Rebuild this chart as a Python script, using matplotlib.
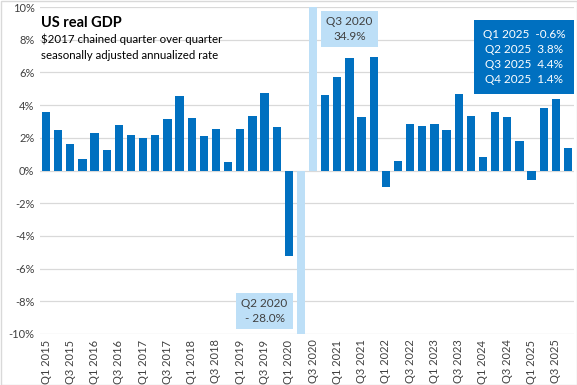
import numpy as np
import matplotlib
matplotlib.use('Agg')
import matplotlib.pyplot as plt
from matplotlib.ticker import FuncFormatter
from matplotlib.patches import Rectangle

# ==================================================
years    = list(range(2015, 2026))
quarters = [f'Q{q} {y}' for y in years for q in range(1, 5)]
growth   = [3.6, 2.45, 1.6, 0.73, 2.32, 1.28, 2.8, 2.2,
            1.96, 2.2, 3.18, 4.53, 3.24, 2.08, 2.51, 0.55,
            2.51, 3.36, 4.71, 2.69, -5.2, -28.0, 34.9, 4.59,
            5.69, 6.9, 3.3, 6.97, -1.0, 0.6, 2.87, 2.75,
            2.87, 2.5, 4.65, 3.36, 0.8, 3.55, 3.3, 1.83,
            -0.6, 3.8, 4.4, 1.4]
outliers = ['Q2 2020', 'Q3 2020']
recent   = ['Q1 2025', 'Q2 2025', 'Q3 2025', 'Q4 2025']
# ==================================================

plt.rcParams['font.family'] = ['Lato', 'DejaVu Sans']

dark  = '#0070C0'
light = '#BDDFF7'
txt   = '#404040'

fig = plt.figure(figsize=(5.77, 3.85), dpi=100)
ax  = fig.add_axes([40/577, 51/385, 534/577, 327/385])

x = np.arange(len(quarters))
colors = [light if q in outliers else dark for q in quarters]
ax.bar(x, growth, width=0.68, color=colors, zorder=3)

ax.set_xlim(-0.5, len(quarters) - 0.5)
ax.set_ylim(-10, 10)
ax.set_yticks(np.arange(-10, 11, 2))
ax.yaxis.set_major_formatter(FuncFormatter(lambda v, _: f'{v:.0f}%'))
ax.set_xticks(x[::2])
ax.set_xticklabels(quarters[::2], rotation=90)
ax.tick_params(axis='both', length=0, labelsize=8, colors=txt, pad=4)
ax.grid(axis='y', color='#D9D9D9', linewidth=0.9, zorder=0)
for s in ax.spines.values():
    s.set_visible(False)

ax.text(-0.45, 9.45, 'US real GDP', fontsize=10.5, fontweight='bold',
        color='black', va='top', ha='left')
ax.text(-0.45, 8.35, '$2017 chained quarter over quarter\nseasonally adjusted annualized rate',
        fontsize=8.3, color='black', va='top', ha='left', linespacing=1.5)

i3 = quarters.index('Q3 2020')
i2 = quarters.index('Q2 2020')
ax.text(25, 8.65, f'{quarters[i3]}\n{growth[i3]:.1f}%', fontsize=8.5, color=txt,
        ha='center', va='center', linespacing=1.4, zorder=5,
        bbox=dict(boxstyle='square,pad=0.45', fc=light, ec='none'))
ax.text(18, -8.6, f'{quarters[i2]}\n- {abs(growth[i2]):.1f}%', fontsize=8.5, color=txt,
        ha='center', va='center', linespacing=1.4, zorder=5,
        bbox=dict(boxstyle='square,pad=0.45', fc=light, ec='none'))

lines = [f'{q}  {growth[quarters.index(q)]:.1f}%' for q in recent]
ax.text(39.4, 6.95, '\n'.join(lines), fontsize=8.5, color='white',
        ha='center', va='center', linespacing=1.45, zorder=5,
        bbox=dict(boxstyle='square,pad=0.75', fc=dark, ec='none'))

fig.patches.append(Rectangle((0.5/577, 0.5/385), 576/577, 384/385,
                             transform=fig.transFigure, fill=False,
                             ec='#D9D9D9', lw=1))

plt.savefig('out.png', dpi=100)
